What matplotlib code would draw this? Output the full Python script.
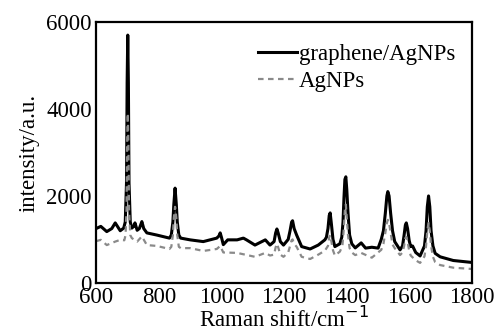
import numpy as np
import matplotlib
matplotlib.use('Agg')
import matplotlib.pyplot as plt

# Raman spectra (wavenumber in cm^-1, intensity in a.u.)
shift_gr = [600, 615, 634, 650, 661, 677, 688, 693, 697, 699, 701, 703, 705, 709, 714, 720,
            724, 731, 738, 742, 746, 752, 762, 794, 834, 840, 845, 848, 852, 856, 859, 864,
            870, 900, 942, 985, 992, 996, 1000, 1006, 1020, 1050, 1070, 1080, 1107, 1140,
            1155, 1168, 1173, 1177, 1181, 1188, 1198, 1213, 1219, 1224, 1227, 1232, 1240,
            1256, 1283, 1309, 1330, 1335, 1340, 1344, 1347, 1351, 1356, 1362, 1378, 1384,
            1388, 1391, 1394, 1397, 1400, 1404, 1409, 1416, 1427, 1446, 1460, 1480, 1500,
            1510, 1517, 1523, 1528, 1531, 1535, 1540, 1546, 1553, 1570, 1578, 1583, 1587,
            1590, 1594, 1599, 1604, 1610, 1620, 1634, 1648, 1653, 1657, 1661, 1665, 1669,
            1675, 1682, 1698, 1740, 1800]
int_gr = [1250, 1300, 1180, 1250, 1380, 1200, 1260, 1400, 2300, 4600, 5700, 4600, 2300, 1400,
          1260, 1300, 1380, 1210, 1250, 1330, 1410, 1250, 1150, 1100, 1030, 1100, 1400, 1800,
          2180, 1800, 1400, 1100, 1030, 990, 950, 1030, 1080, 1150, 1050, 880, 990, 990, 1030,
          990, 870, 990, 870, 950, 1150, 1240, 1150, 950, 870, 1000, 1200, 1400, 1430, 1250,
          1100, 835, 780, 870, 990, 1050, 1250, 1550, 1610, 1350, 1000, 835, 900, 1050, 1400,
          1950, 2380, 2440, 2150, 1600, 1100, 900, 805, 920, 800, 820, 800, 1000, 1200, 1600,
          2000, 2100, 2000, 1600, 1200, 950, 760, 850, 1100, 1330, 1380, 1250, 980, 835, 850,
          700, 620, 850, 1200, 1750, 2000, 1750, 1200, 850, 680, 600, 515, 470]

shift_ag = [600, 615, 634, 661, 677, 690, 694, 697, 699, 701, 703, 705, 709, 714, 731, 746,
            762, 794, 834, 840, 845, 848, 852, 856, 859, 864, 870, 900, 942, 985, 996, 1006,
            1050, 1107, 1140, 1155, 1168, 1173, 1177, 1181, 1188, 1198, 1213, 1219, 1224,
            1227, 1232, 1240, 1256, 1283, 1309, 1330, 1340, 1344, 1347, 1351, 1356, 1362,
            1378, 1386, 1390, 1394, 1397, 1400, 1404, 1409, 1416, 1427, 1446, 1480, 1510,
            1517, 1523, 1528, 1531, 1535, 1540, 1546, 1553, 1570, 1578, 1583, 1587, 1590,
            1594, 1599, 1604, 1620, 1634, 1648, 1653, 1657, 1661, 1665, 1669, 1675, 1682,
            1698, 1740, 1800]
int_ag = [960, 990, 870, 950, 990, 980, 1100, 1700, 3200, 3900, 3200, 1700, 1100, 1030, 950,
          1070, 870, 850, 780, 830, 1100, 1500, 1750, 1500, 1100, 830, 800, 800, 735, 780,
          850, 700, 690, 600, 690, 630, 650, 820, 900, 820, 650, 600, 700, 850, 980, 1000,
          900, 830, 600, 550, 650, 740, 850, 1050, 1100, 950, 750, 630, 720, 850, 1200, 1700,
          1800, 1500, 1100, 800, 700, 640, 690, 580, 760, 900, 1150, 1380, 1450, 1380, 1150,
          880, 800, 640, 700, 850, 1030, 1060, 950, 750, 630, 520, 460, 610, 850, 1200, 1380,
          1200, 850, 600, 480, 410, 350, 320]

plt.rcParams['font.family'] = 'Liberation Serif'
plt.rcParams['font.size'] = 16.5

fig = plt.figure(figsize=(4.98, 3.34), dpi=100)
ax = fig.add_axes([0.193, 0.153, 0.755, 0.781])

ax.plot(shift_gr, int_gr, color='black', lw=2.2, label='graphene/AgNPs')
ax.plot(shift_ag, int_ag, color='#8a8a8a', lw=1.6, ls=(0, (2.5, 2)), label='AgNPs')

ax.set_xlim(600, 1800)
ax.set_ylim(0, 6000)
ax.set_xticks([600, 800, 1000, 1200, 1400, 1600, 1800])
ax.set_yticks([0, 2000, 4000, 6000])
ax.tick_params(length=0, labelsize=16.5)
ax.tick_params(axis='x', pad=3)
ax.tick_params(axis='y', pad=3)
for s in ax.spines.values():
    s.set_linewidth(1.6)

ax.set_xlabel('Raman shift/cm$^{-1}$', fontsize=16.5, labelpad=-1)
ax.set_ylabel('intensity/a.u.', fontsize=16.5, labelpad=5)

ax.legend(loc='upper left', bbox_to_anchor=(0.405, 0.95), frameon=False,
          handlelength=1.7, handletextpad=0.1, labelspacing=0.25, borderaxespad=0,
          fontsize=16.5)

fig.savefig('out.png', dpi=100)
